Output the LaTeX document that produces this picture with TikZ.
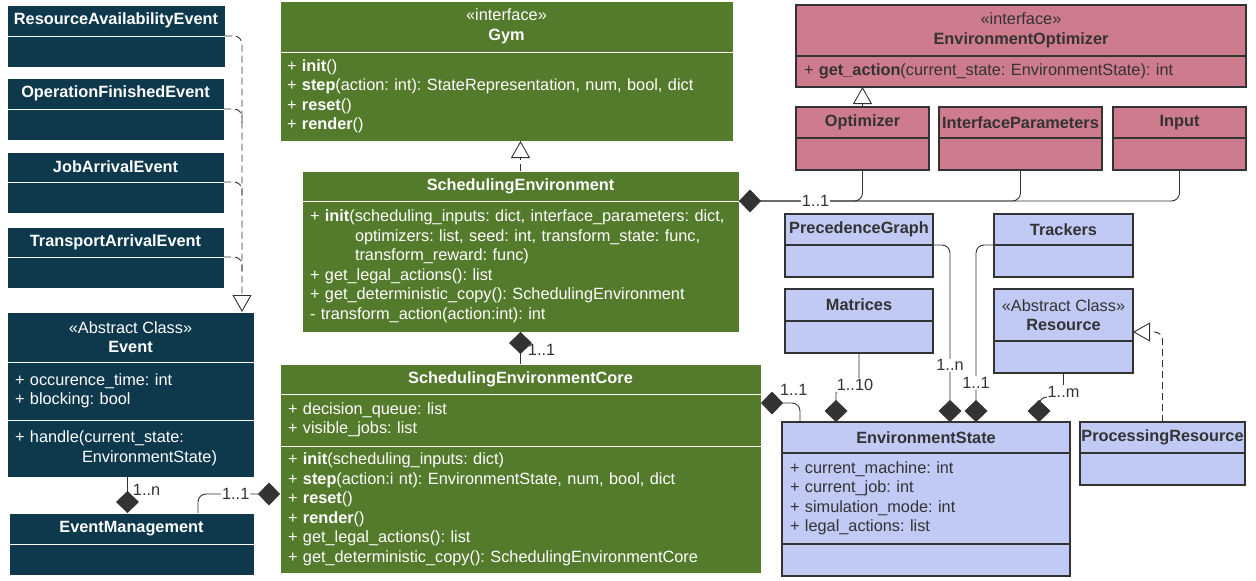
\documentclass[tikz,border=0pt]{standalone}
\usepackage{fontspec}
\setmainfont{Liberation Sans}
\usetikzlibrary{arrows.meta,positioning,calc}
\definecolor{evTeal}{RGB}{14,57,77}
\definecolor{gymGreen}{RGB}{84,122,44}
\definecolor{optPink}{RGB}{207,123,142}
\definecolor{stateBlue}{RGB}{193,202,245}
\definecolor{ink}{RGB}{51,51,51}
\frenchspacing
\newcommand{\umlfont}{\fontsize{16.3}{19.5}\selectfont}
\tikzset{umlpanel/.style={
  x=1pt, y=-1pt, font=\umlfont,
  cls/.style={rectangle, anchor=north west, inner xsep=8pt, inner ysep=0pt, outer sep=0pt, align=left},
  hdr/.style={cls, align=center, inner xsep=1pt, font=\umlfont\bfseries},
  evbox/.style={fill=evTeal, draw=white, line width=0.8pt, text=white},
  gymbox/.style={fill=gymGreen, draw=white, line width=0.8pt, text=white},
  optbox/.style={fill=optPink, draw=ink, line width=1.2pt, text=ink},
  stbox/.style={fill=stateBlue, draw=ink, line width=1.2pt, text=ink},
  link/.style={draw=ink, line width=0.9pt, rounded corners=8pt},
  branch/.style={link, dash pattern=on 7pt off 4pt},
  comp/.style={link, arrows={Diamond[length=22pt,width=23pt]-}},
  realize/.style={branch, arrows={-Triangle[length=17pt,width=19pt,fill=white]}},
  generalize/.style={link, arrows={-Triangle[length=17pt,width=19pt,fill=white]}},
  mult/.style={text=ink, inner sep=1pt},
}}

\begin{document}
\begin{tikzpicture}[umlpanel]
\useasboundingbox (0,0) rectangle (1256,581);
% =====================================================================
%  events (left column)
% =====================================================================
\node[hdr, evbox, minimum width=218pt, minimum height=31pt] (raeH) at (7,5) {ResourceAvailabilityEvent};
\node[cls, evbox, minimum width=218pt, minimum height=31pt] (raeB) at (raeH.south west) {};
\node[hdr, evbox, minimum width=217pt, minimum height=31pt] (ofeH) at (7,78) {OperationFinishedEvent};
\node[cls, evbox, minimum width=217pt, minimum height=31pt] (ofeB) at (ofeH.south west) {};
\node[hdr, evbox, minimum width=217pt, minimum height=30pt] (jaeH) at (7,152) {JobArrivalEvent};
\node[cls, evbox, minimum width=217pt, minimum height=31pt] (jaeB) at (jaeH.south west) {};
\node[hdr, evbox, minimum width=217pt, minimum height=30pt] (taeH) at (7,227) {TransportArrivalEvent};
\node[cls, evbox, minimum width=217pt, minimum height=31pt] (taeB) at (taeH.south west) {};

\node[hdr, evbox, minimum width=247pt, minimum height=50pt] (evH) at (7,312) {{\mdseries «Abstract Class»}\\Event};
\node[cls, evbox, minimum width=247pt, minimum height=58pt, text width=231pt] (evA) at (evH.south west) {%
  + occurence\_time: int\\
  + blocking: bool};
\node[cls, evbox, minimum width=247pt, minimum height=57pt, text width=231pt] (evM) at (evA.south west) {%
  + handle(current\_state:\\
  \hspace*{67pt}EnvironmentState)};

\node[hdr, evbox, minimum width=245pt, minimum height=31pt] (emH) at (9,513) {EventManagement};
\node[cls, evbox, minimum width=245pt, minimum height=31pt] (emB) at (emH.south west) {};

% =====================================================================
%  gym side (middle)
% =====================================================================
\node[hdr, gymbox, minimum width=453pt, minimum height=51pt] (gymH) at (280,1) {{\mdseries «interface»}\\Gym};
\node[cls, gymbox, minimum width=453pt, minimum height=89pt, inner xsep=7pt, text width=439pt] (gymB) at (gymH.south west) {%
  + \textbf{init}()\\
  + \textbf{step}(action: int): StateRepresentation, num, bool, dict\\
  + \textbf{reset}()\\
  + \textbf{render}()};

\node[hdr, gymbox, minimum width=437pt, minimum height=30pt] (seH) at (302,171) {SchedulingEnvironment};
\node[cls, gymbox, minimum width=437pt, minimum height=131pt, text width=421pt] (seB) at (seH.south west) {%
  + \textbf{init}(scheduling\_inputs: dict, interface\_parameters: dict,\\
  \hspace*{45pt}optimizers: list, seed: int, transform\_state: func,\\
  \hspace*{45pt}transform\_reward: func)\\
  + get\_legal\_actions(): list\\
  + get\_deterministic\_copy(): SchedulingEnvironment\\
  - transform\_action(action:int): int};

\node[hdr, gymbox, minimum width=481pt, minimum height=30pt] (secH) at (280,364) {SchedulingEnvironmentCore};
\node[cls, gymbox, minimum width=481pt, minimum height=52pt, text width=465pt] (secA) at (secH.south west) {%
  + decision\_queue: list\\
  + visible\_jobs: list};
\node[cls, gymbox, minimum width=481pt, minimum height=127pt, text width=465pt] (secM) at (secA.south west) {%
  + \textbf{init}(scheduling\_inputs: dict)\\
  + \textbf{step}(action:i nt): EnvironmentState, num, bool, dict\\
  + \textbf{reset}()\\
  + \textbf{render}()\\
  + get\_legal\_actions(): list\\
  + get\_deterministic\_copy(): SchedulingEnvironmentCore};

% =====================================================================
%  optimizers (top right)
% =====================================================================
\node[hdr, optbox, minimum width=450pt, minimum height=51pt] (eoH) at (796,5) {{\mdseries «interface»}\\EnvironmentOptimizer};
\node[cls, optbox, minimum width=450pt, minimum height=31pt, text width=434pt] (eoB) at (eoH.south west) {%
  + \textbf{get\_action}(current\_state: EnvironmentState): int};

\node[hdr, optbox, minimum width=133pt, minimum height=31pt] (optH) at (796,107) {Optimizer};
\node[cls, optbox, minimum width=133pt, minimum height=32pt] (optB) at (optH.south west) {};
\node[hdr, optbox, minimum width=163pt, minimum height=31pt] (ipH) at (939,107) {InterfaceParameters};
\node[cls, optbox, minimum width=163pt, minimum height=32pt] (ipB) at (ipH.south west) {};
\node[hdr, optbox, minimum width=133pt, minimum height=31pt] (inH) at (1113,107) {Input};
\node[cls, optbox, minimum width=133pt, minimum height=32pt] (inB) at (inH.south west) {};

% =====================================================================
%  state (bottom right)
% =====================================================================
\node[hdr, stbox, minimum width=148pt, minimum height=31pt] (pgH) at (785,214) {PrecedenceGraph};
\node[cls, stbox, minimum width=148pt, minimum height=32pt] (pgB) at (pgH.south west) {};
\node[hdr, stbox, minimum width=139pt, minimum height=31pt] (trH) at (994,214) {Trackers};
\node[cls, stbox, minimum width=139pt, minimum height=32pt] (trB) at (trH.south west) {};
\node[hdr, stbox, minimum width=148pt, minimum height=32pt] (matH) at (785,289) {Matrices};
\node[cls, stbox, minimum width=148pt, minimum height=32pt] (matB) at (matH.south west) {};
\node[hdr, stbox, minimum width=139pt, minimum height=52pt] (resH) at (994,289) {{\mdseries «Abstract Class»}\\Resource};
\node[cls, stbox, minimum width=139pt, minimum height=32pt] (resB) at (resH.south west) {};

\node[hdr, stbox, minimum width=288pt, minimum height=31pt] (esH) at (782,422) {EnvironmentState};
\node[cls, stbox, minimum width=288pt, minimum height=91pt, text width=272pt] (esA) at (esH.south west) {%
  + current\_machine: int\\
  + current\_job: int\\
  + simulation\_mode: int\\
  + legal\_actions: list};
\node[cls, stbox, minimum width=288pt, minimum height=32pt] (esM) at (esA.south west) {};
\node[hdr, stbox, minimum width=165pt, minimum height=31pt] (prH) at (1080,422) {ProcessingResource};
\node[cls, stbox, minimum width=165pt, minimum height=32pt] (prB) at (prH.south west) {};

% =====================================================================
%  connectors
% =====================================================================
\coordinate (evTip) at ([xshift=-12pt]evH.north east);
\coordinate (ofeJ) at ([xshift=18pt,yshift=-14pt]ofeH.south east);
\coordinate (jaeJ) at ([xshift=18pt,yshift=-14pt]jaeH.south east);
\coordinate (taeJ) at ([xshift=18pt,yshift=-14pt]taeH.south east);
\draw[realize] (raeH.south east) -| (evTip);
\draw[branch] (ofeH.south east) -| (ofeJ);
\draw[branch] (jaeH.south east) -| (jaeJ);
\draw[branch] (taeH.south east) -| (taeJ);

\coordinate (emTop) at ([xshift=-4pt]emH.north);
\draw[comp] (emTop) -- node[mult, pos=0.64, anchor=west, xshift=4pt] (mEv) {1..n} (emTop |- evM.south);
\draw[comp] ([yshift=15.5pt]secM.west) -| node[mult, fill=white, pos=0.27] (mEM) {1..1} ([xshift=66.5pt]emH.north);

\draw[realize] (seH.north) -- (seH.north |- gymB.south);
\draw[comp] (seB.south) -- node[mult, pos=0.56, anchor=west, xshift=6pt] (mSEC) {1..1} (secH.north);

\draw[generalize] (optH.north) -- (optH.north |- eoB.south);
\draw[link] (seH.south east) -| (inB.south);
\draw[link] (seH.south east) -| (ipB.south);
\draw[comp] (seH.south east) -| node[mult, fill=white, pos=0.31] (mOpt) {1..1} (optB.south);

\draw[comp] ([yshift=-9pt]secA.north east) -| node[mult, pos=0.42, anchor=south, yshift=6pt] (mES) {1..1} ([xshift=18pt]esH.north west);
\draw[comp] ([xshift=54pt]esH.north west) |- ([yshift=-32pt]matB.south) -- (matB.south);
\node[mult, fill=white] (mMat) at ([xshift=-4pt,yshift=-32pt]matB.south) {1..10};
\draw[comp] ([xshift=168pt]esH.north west) |- node[mult, fill=white, pos=0.16] (mPG) {1..n} (pgH.south east);
\draw[comp] ([xshift=194pt]esH.north west) |- node[mult, fill=white, pos=0.11] (mTr) {1..1} (trH.south west);
\draw[comp] ([xshift=257pt]esH.north west) |- ([yshift=-24pt]resB.south) -- (resB.south);
\node[mult, fill=white] (mRes) at ([yshift=-19pt]resB.south) {1..m};

\draw[realize] (prH.north) |- ([yshift=-17pt]resH.east);
\end{tikzpicture}
\end{document}
